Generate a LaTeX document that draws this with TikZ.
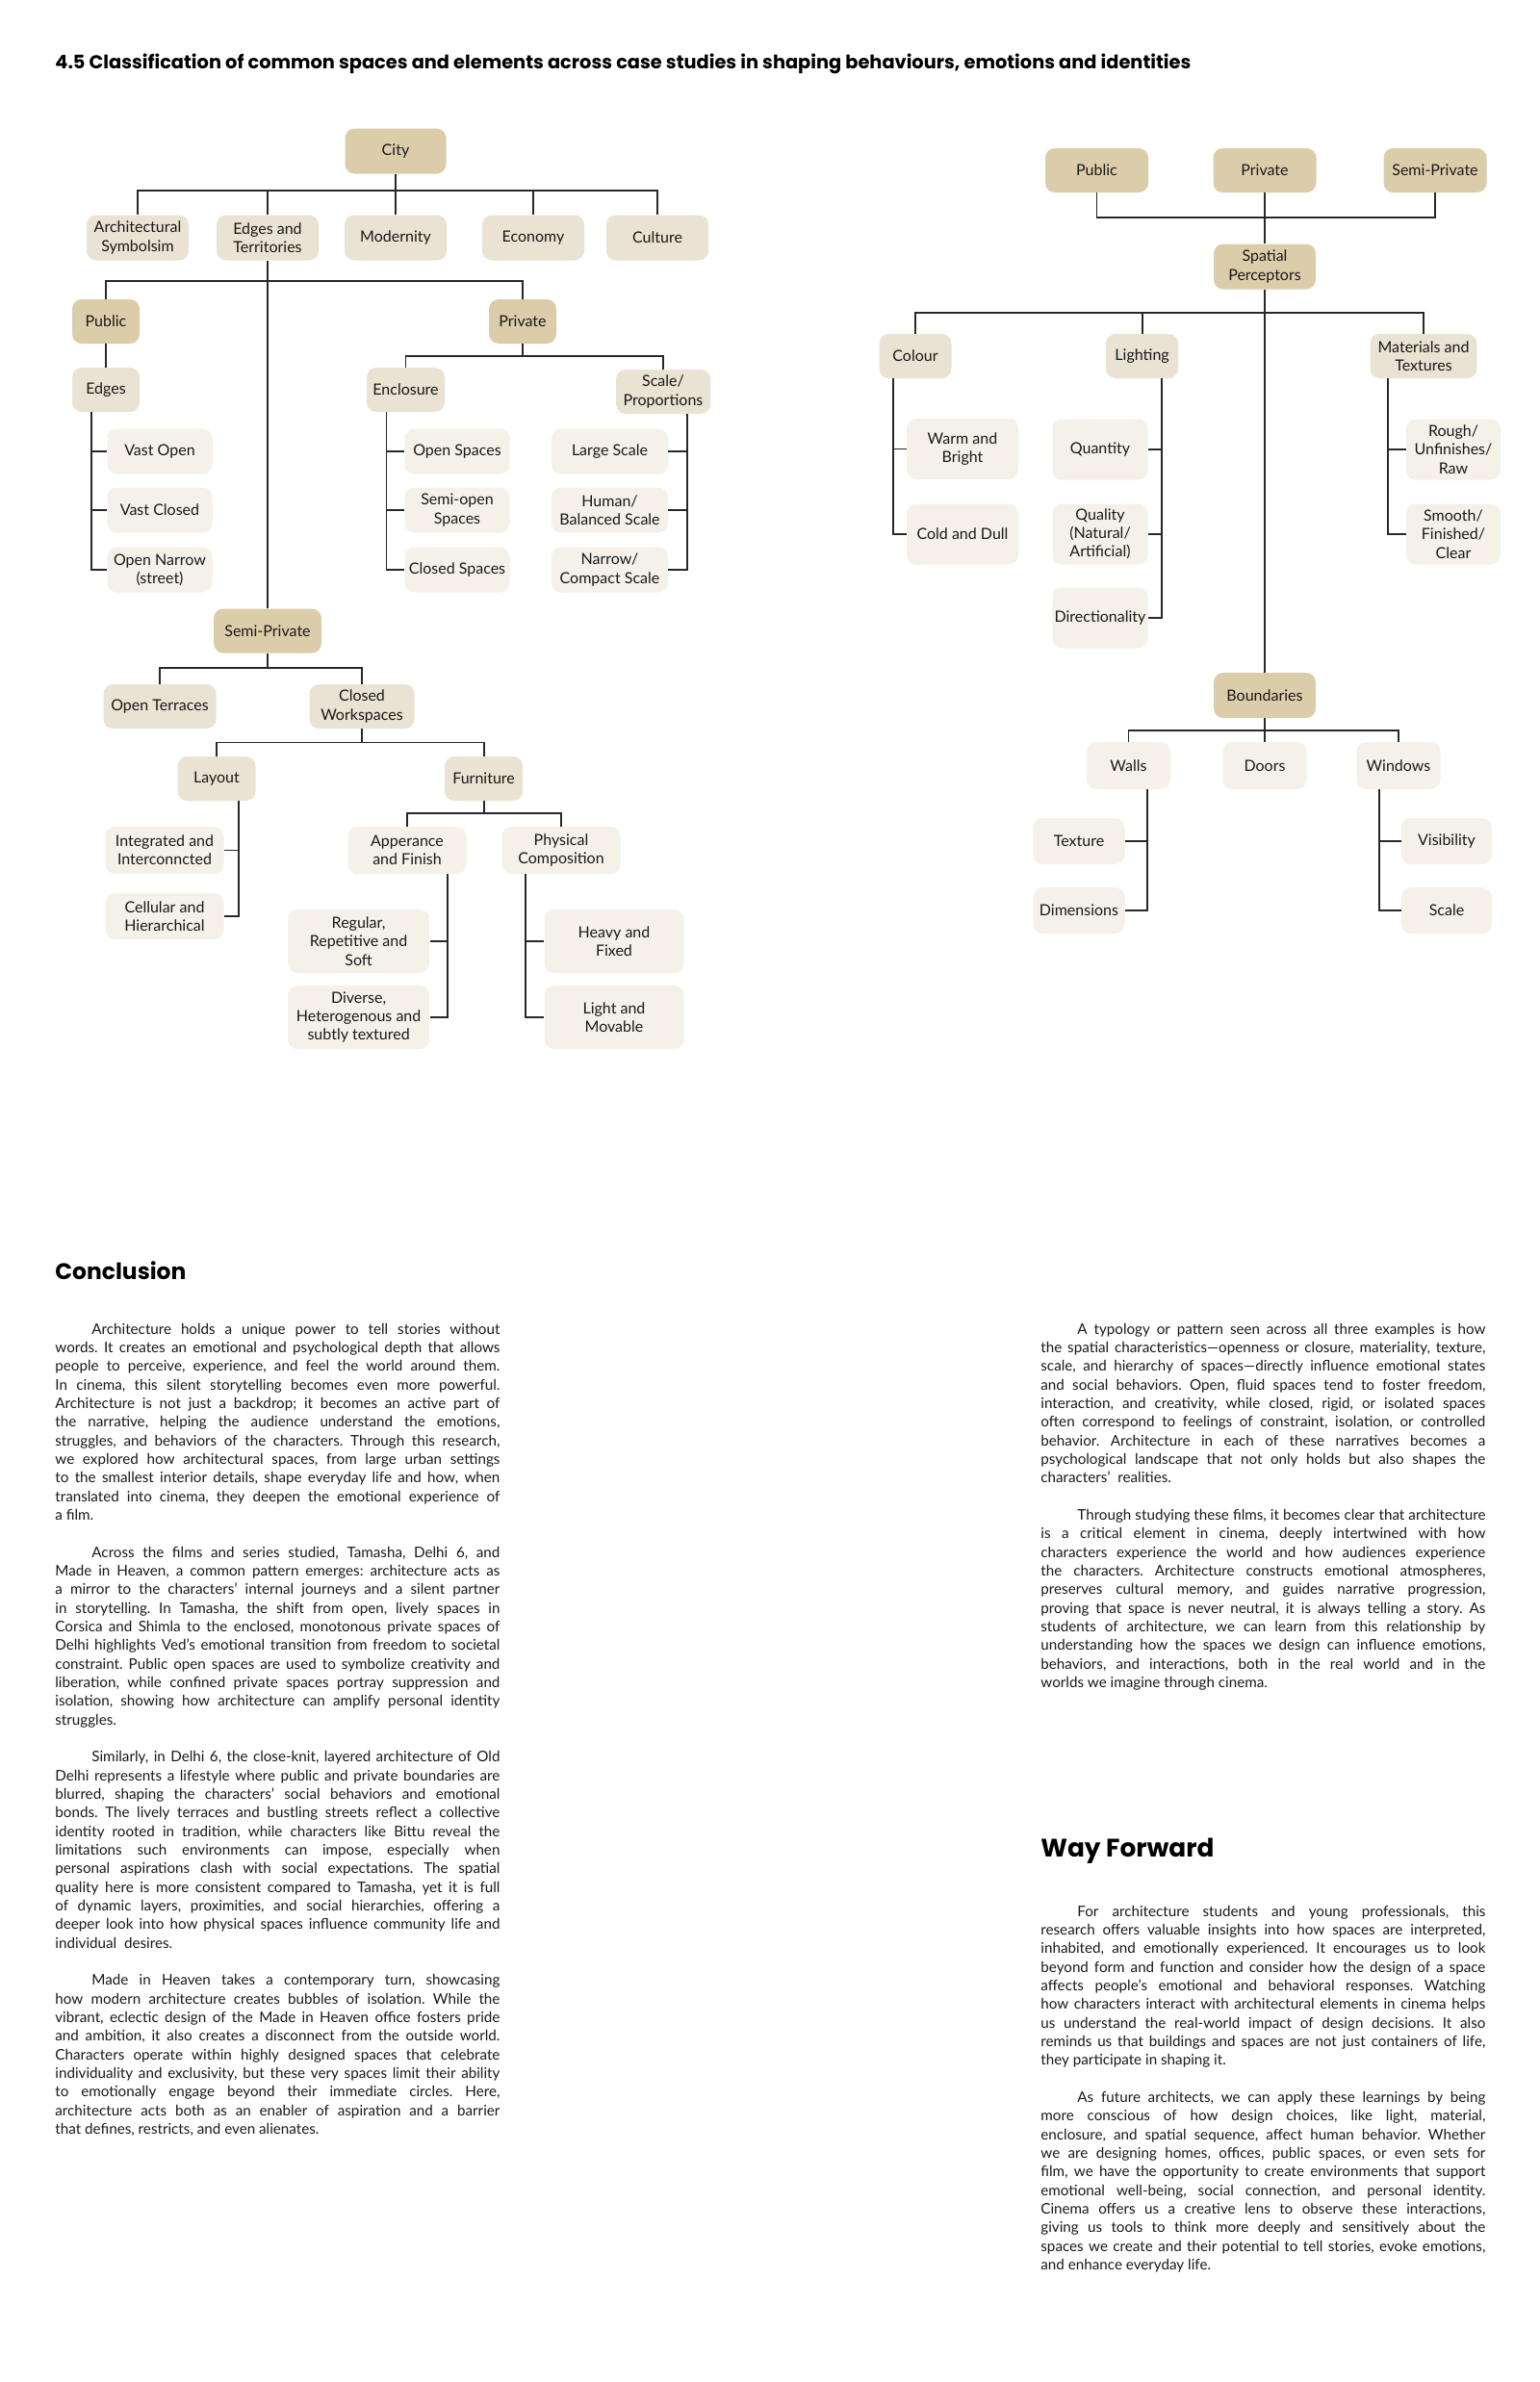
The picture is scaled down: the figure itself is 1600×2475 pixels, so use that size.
\documentclass[tikz,border=0pt]{standalone}
\usepackage{fontspec}
\usepackage{graphicx}
\usepackage{tikz}
\setmainfont{Lato}
\newfontfamily\headfont{Poppins}
\newcommand\nodefont{\fontsize{8}{9.6}\selectfont}
\newcommand\bodyfont{\fontsize{7.6}{9.667}\selectfont\frenchspacing
    \spaceskip=\fontdimen2\font plus 3\fontdimen2\font minus \fontdimen4\font}
% one justified line, first line with indent, last line, blank line
\newlength\colw
\setlength\colw{231pt}
\newcommand\jl[1]{\hbox to \colw{#1}}
\newcommand\il[1]{\hbox to \colw{\hskip19pt #1}}
\newcommand\el[1]{\hbox to \colw{#1\hfil}}
\newcommand\bl{\hbox{}}

\begin{document}
\begin{tikzpicture}[x=0.5pt,y=-0.5pt,
    box/.style={rounded corners=5pt,inner sep=1pt,align=center,text=ink,font=\nodefont},
    headbox/.style={box,fill=beigeD},
    midbox/.style={box,fill=beigeM},
    leafbox/.style={box,fill=beigeL},
    sz/.style 2 args={minimum width=#1*0.5pt,minimum height=#2*0.5pt},
    wire/.style={draw=wirec,line width=0.9pt},
    para/.style={anchor=north west,inner sep=0pt,font=\bodyfont,text=ink}]
    \definecolor{beigeD}{RGB}{220,205,170}
    \definecolor{beigeM}{RGB}{234,226,210}
    \definecolor{beigeL}{RGB}{245,241,233}
    \definecolor{ink}{RGB}{25,25,25}
    \definecolor{wirec}{RGB}{40,40,40}

    \fill[white] (0,0) rectangle (1600,2475);
    \useasboundingbox (0,0) rectangle (1600,2475);

    % Title
    \node[anchor=west,inner sep=0pt,text=black] (Title) at (57,66)
        {\resizebox{590pt}{!}{\headfont\bfseries 4.5 Classification of common spaces and elements across case studies in shaping behaviours, emotions and identities}};

    % ---------------- City tree ----------------
    \node[headbox,sz={105}{47}] (City) at (411,157) {City};
    \node[midbox,sz={106}{47}] (Arch) at (143,247) {Architectural\\Symbolsim};
    \node[midbox,sz={106}{47}] (EdgTer) at (278,247) {Edges and\\Territories};
    \node[midbox,sz={106}{47}] (Modern) at (411,247) {Modernity};
    \node[midbox,sz={106}{47}] (Econ) at (554,247) {Economy};
    \node[midbox,sz={106}{47}] (Cult) at (683,247) {Culture};

    \node[headbox,sz={70}{46}] (Pub) at (110,334) {Public};
    \node[headbox,sz={70}{46}] (Priv) at (543,334) {Private};
    \node[midbox,sz={70}{46}] (Edges) at (110,405) {Edges};
    \node[leafbox,sz={109}{47}] (VastOpen) at (166,469) {Vast Open};
    \node[leafbox,sz={109}{47}] (VastClosed) at (166,530) {Vast Closed};
    \node[leafbox,sz={109}{47}] (OpenNarrow) at (166,592) {Open Narrow\\(street)};

    \node[midbox,sz={81}{46}] (Encl) at (421.5,405) {Enclosure};
    \node[midbox,sz={98}{46}] (ScaleP) at (689,407) {Scale/\\Proportions};
    \node[leafbox,sz={109}{47}] (OpenSp) at (475,469) {Open Spaces};
    \node[leafbox,sz={109}{47}] (SemiOpen) at (475,530) {Semi-open\\Spaces};
    \node[leafbox,sz={109}{47}] (ClosedSp) at (475,592) {Closed Spaces};
    \node[leafbox,sz={121}{47}] (Large) at (633.5,469) {Large Scale};
    \node[leafbox,sz={121}{47}] (Human) at (633.5,530) {Human/\\Balanced Scale};
    \node[leafbox,sz={121}{47}] (NarrowC) at (633.5,592) {Narrow/\\Compact Scale};

    \node[headbox,sz={112}{46}] (SemiPriv) at (278,655.5) {Semi-Private};
    \node[midbox,sz={117}{46}] (Terr) at (166,734) {Open Terraces};
    \node[midbox,sz={109}{46}] (ClosedW) at (376,734) {Closed\\Workspaces};
    \node[midbox,sz={81}{46}] (Layout) at (225,809) {Layout};
    \node[midbox,sz={81}{46}] (Furn) at (502.6,809) {Furniture};
    \node[leafbox,sz={123}{49}] (Integ) at (171,883.5) {Integrated and\\Interconncted};
    \node[leafbox,sz={123}{48}] (Cell) at (171,952) {Cellular and\\Hierarchical};
    \node[leafbox,sz={123}{49}] (Appear) at (423,883.5) {Apperance\\and Finish};
    \node[leafbox,sz={123}{49}] (Phys) at (583,883.5) {Physical\\Composition};
    \node[leafbox,sz={147}{66}] (Regular) at (372.6,978) {Regular,\\Repetitive and\\Soft};
    \node[leafbox,sz={147}{66}] (Diverse) at (372.6,1057) {Diverse,\\Heterogenous and\\subtly textured};
    \node[leafbox,sz={145}{66}] (Heavy) at (638,978) {Heavy and\\Fixed};
    \node[leafbox,sz={145}{66}] (LightM) at (638,1057) {Light and\\Movable};

    % city fan
    \coordinate (CityBus) at (411,198);
    \draw[wire] (City) -- (Modern);
    \draw[wire] (Arch.north) |- (CityBus) -| (Cult.north);
    \foreach \n in {EdgTer,Econ} \draw[wire] (\n.north) -- (\n.north |- CityBus);

    % edges and territories
    \coordinate (PPBus) at (278,292);
    \draw[wire] (EdgTer) -- (SemiPriv);
    \draw[wire] (Pub.north) |- (PPBus) -| (Priv.north);
    \draw[wire] (Pub) -- (Edges);
    \coordinate (EdgesL) at ([xshift=-7.5pt]Edges.south);
    \draw[wire] (EdgesL) |- (OpenNarrow.west);
    \foreach \n in {VastOpen,VastClosed} \draw[wire] (\n.west) -- (\n.west -| EdgesL);

    % private
    \coordinate (PrivBus) at (543,370);
    \draw[wire] (Priv) -- (PrivBus);
    \draw[wire] (Encl.north) |- (PrivBus) -| (ScaleP.north);
    \coordinate (EnclL) at ([xshift=-10pt]Encl.south);
    \draw[wire] (EnclL) |- (ClosedSp.west);
    \foreach \n in {OpenSp,SemiOpen} \draw[wire] (\n.west) -- (\n.west -| EnclL);
    \coordinate (ScaleR) at ([xshift=12.3pt]ScaleP.south);
    \draw[wire] (ScaleR) |- (NarrowC.east);
    \foreach \n in {Large,Human} \draw[wire] (\n.east) -- (\n.east -| ScaleR);

    % semi-private
    \coordinate (SPBus) at (278,694);
    \draw[wire] (SemiPriv) -- (SPBus);
    \draw[wire] (Terr.north) |- (SPBus) -| (ClosedW.north);
    \coordinate (CWBus) at (376,771.5);
    \draw[wire] (ClosedW) -- (CWBus);
    \draw[wire] (Layout.north) |- (CWBus) -| (Furn.north);
    \coordinate (LayoutR) at ([xshift=11.3pt]Layout.south);
    \draw[wire] (LayoutR) |- (Cell.east);
    \draw[wire] (Integ.east) -- (Integ.east -| LayoutR);
    \coordinate (FurnBus) at (502.6,845);
    \draw[wire] (Furn) -- (FurnBus);
    \draw[wire] (Appear.north) |- (FurnBus) -| (Phys.north);
    \coordinate (AppearR) at ([xshift=21pt]Appear.south);
    \draw[wire] (AppearR) |- (Diverse.east);
    \draw[wire] (Regular.east) -- (Regular.east -| AppearR);
    \coordinate (PhysL) at ([xshift=-18.5pt]Phys.south);
    \draw[wire] (PhysL) |- (LightM.west);
    \draw[wire] (Heavy.west) -- (Heavy.west -| PhysL);

    % ---------------- Spatial perceptors tree ----------------
    \node[headbox,sz={107}{46}] (RPub) at (1139.5,177) {Public};
    \node[headbox,sz={107}{46}] (RPriv) at (1314,177) {Private};
    \node[headbox,sz={107}{46}] (RSemi) at (1491,177) {Semi-Private};
    \node[headbox,sz={106}{47}] (Spatial) at (1314,277) {Spatial\\Perceptors};

    \node[midbox,sz={75}{46}] (Colour) at (951,370) {Colour};
    \node[midbox,sz={75}{46}] (Lighting) at (1186.6,370) {Lighting};
    \node[midbox,sz={111}{46}] (Mater) at (1479,370) {Materials and\\Textures};
    \node[leafbox,sz={116}{63}] (Warm) at (1000,466.5) {Warm and\\Bright};
    \node[leafbox,sz={116}{63}] (Cold) at (1000,555) {Cold and Dull};
    \node[leafbox,sz={99}{63}] (Quantity) at (1143,467) {Quantity};
    \node[leafbox,sz={99}{63}] (Quality) at (1143,555) {Quality\\(Natural/\\Artificial)};
    \node[leafbox,sz={99}{63}] (Direct) at (1143,642) {Directionality};
    \node[leafbox,sz={98}{63}] (Rough) at (1510,467) {Rough/\\Unfinishes/\\Raw};
    \node[leafbox,sz={98}{63}] (Smooth) at (1510,555) {Smooth/\\Finished/\\Clear};

    \node[headbox,sz={106}{47}] (Bound) at (1314,722.5) {Boundaries};
    \node[leafbox,sz={87}{49}] (Walls) at (1172.5,795.5) {Walls};
    \node[leafbox,sz={87}{49}] (Doors) at (1314,795.5) {Doors};
    \node[leafbox,sz={87}{49}] (Windows) at (1453,795.5) {Windows};
    \node[leafbox,sz={95}{48}] (Texture) at (1121,874) {Texture};
    \node[leafbox,sz={95}{48}] (Dimens) at (1121,946) {Dimensions};
    \node[leafbox,sz={94}{48}] (Visib) at (1503,874) {Visibility};
    \node[leafbox,sz={94}{48}] (WScale) at (1503,946) {Scale};

    \coordinate (TopBus) at (1314,226);
    \draw[wire] (RPub.south) |- (TopBus) -| (RSemi.south);
    \draw[wire] (RPriv) -- (Spatial);
    \draw[wire] (Spatial) -- (Bound);
    \coordinate (SpatBus) at (1314,324.6);
    \draw[wire] (Colour.north) |- (SpatBus) -| (Mater.north);
    \draw[wire] (Lighting.north) -- (Lighting.north |- SpatBus);
    \coordinate (ColourL) at ([xshift=-11.5pt]Colour.south);
    \draw[wire] (ColourL) |- (Cold.west);
    \draw[wire] (Warm.west) -- (Warm.west -| ColourL);
    \coordinate (LightR) at ([xshift=10.2pt]Lighting.south);
    \draw[wire] (LightR) |- (Direct.east);
    \foreach \n in {Quantity,Quality} \draw[wire] (\n.east) -- (\n.east -| LightR);
    \coordinate (MaterL) at ([xshift=-18.7pt]Mater.south);
    \draw[wire] (MaterL) |- (Smooth.west);
    \draw[wire] (Rough.west) -- (Rough.west -| MaterL);

    \coordinate (BoundBus) at (1314,758.7);
    \draw[wire] (Bound) -- (Doors);
    \draw[wire] (Walls.north) |- (BoundBus) -| (Windows.north);
    \coordinate (WallsR) at ([xshift=9.6pt]Walls.south);
    \draw[wire] (WallsR) |- (Dimens.east);
    \draw[wire] (Texture.east) -- (Texture.east -| WallsR);
    \coordinate (WinL) at ([xshift=-10.15pt]Windows.south);
    \draw[wire] (WinL) |- (WScale.west);
    \draw[wire] (Visib.west) -- (Visib.west -| WinL);

    % ---------------- Text ----------------
    \node[anchor=west,inner sep=0pt,text=black] (Concl) at (57,1320)
        {\resizebox{68pt}{!}{\headfont\bfseries Conclusion}};
    \node[anchor=west,inner sep=0pt,text=black] (WayF) at (1081,1923)
        {\resizebox{90pt}{!}{\headfont\bfseries Way Forward}};

    \node[para] (ConclText) at (57,1374.5) {\vbox{%
        \il{Architecture holds a unique power to tell stories without}
        \jl{words. It creates an emotional and psychological depth that allows}
        \jl{people to perceive, experience, and feel the world around them.}
        \jl{In cinema, this silent storytelling becomes even more powerful.}
        \jl{Architecture is not just a backdrop; it becomes an active part of}
        \jl{the narrative, helping the audience understand the emotions,}
        \jl{struggles, and behaviors of the characters. Through this research,}
        \jl{we explored how architectural spaces, from large urban settings}
        \jl{to the smallest interior details, shape everyday life and how, when}
        \jl{translated into cinema, they deepen the emotional experience of}
        \el{a film.}
        \bl
        \il{Across the films and series studied, Tamasha, Delhi 6, and}
        \jl{Made in Heaven, a common pattern emerges: architecture acts as}
        \jl{a mirror to the characters’ internal journeys and a silent partner}
        \jl{in storytelling. In Tamasha, the shift from open, lively spaces in}
        \jl{Corsica and Shimla to the enclosed, monotonous private spaces of}
        \jl{Delhi highlights Ved’s emotional transition from freedom to societal}
        \jl{constraint. Public open spaces are used to symbolize creativity and}
        \jl{liberation, while confined private spaces portray suppression and}
        \jl{isolation, showing how architecture can amplify personal identity}
        \el{struggles.}
        \bl
        \il{Similarly, in Delhi 6, the close-knit, layered architecture of Old}
        \jl{Delhi represents a lifestyle where public and private boundaries are}
        \jl{blurred, shaping the characters’ social behaviors and emotional}
        \jl{bonds. The lively terraces and bustling streets reflect a collective}
        \jl{identity rooted in tradition, while characters like Bittu reveal the}
        \jl{limitations such environments can impose, especially when}
        \jl{personal aspirations clash with social expectations. The spatial}
        \jl{quality here is more consistent compared to Tamasha, yet it is full}
        \jl{of dynamic layers, proximities, and social hierarchies, offering a}
        \jl{deeper look into how physical spaces influence community life and}
        \el{individual\ \ desires.}
        \bl
        \il{Made in Heaven takes a contemporary turn, showcasing}
        \jl{how modern architecture creates bubbles of isolation. While the}
        \jl{vibrant, eclectic design of the Made in Heaven office fosters pride}
        \jl{and ambition, it also creates a disconnect from the outside world.}
        \jl{Characters operate within highly designed spaces that celebrate}
        \jl{individuality and exclusivity, but these very spaces limit their ability}
        \jl{to emotionally engage beyond their immediate circles. Here,}
        \jl{architecture acts both as an enabler of aspiration and a barrier}
        \el{that defines, restricts, and even alienates.}}};

    \node[para] (TypoText) at (1081,1374.5) {\vbox{%
        \il{A typology or pattern seen across all three examples is how}
        \jl{the spatial characteristics—openness or closure, materiality, texture,}
        \jl{scale, and hierarchy of spaces—directly influence emotional states}
        \jl{and social behaviors. Open, fluid spaces tend to foster freedom,}
        \jl{interaction, and creativity, while closed, rigid, or isolated spaces}
        \jl{often correspond to feelings of constraint, isolation, or controlled}
        \jl{behavior. Architecture in each of these narratives becomes a}
        \jl{psychological landscape that not only holds but also shapes the}
        \el{characters’\ \ realities.}
        \bl
        \il{Through studying these films, it becomes clear that architecture}
        \jl{is a critical element in cinema, deeply intertwined with how}
        \jl{characters experience the world and how audiences experience}
        \jl{the characters. Architecture constructs emotional atmospheres,}
        \jl{preserves cultural memory, and guides narrative progression,}
        \jl{proving that space is never neutral, it is always telling a story. As}
        \jl{students of architecture, we can learn from this relationship by}
        \jl{understanding how the spaces we design can influence emotions,}
        \jl{behaviors, and interactions, both in the real world and in the}
        \el{worlds we imagine through cinema.}}};

    \node[para] (WayText) at (1081,1979.5) {\vbox{%
        \il{For architecture students and young professionals, this}
        \jl{research offers valuable insights into how spaces are interpreted,}
        \jl{inhabited, and emotionally experienced. It encourages us to look}
        \jl{beyond form and function and consider how the design of a space}
        \jl{affects people’s emotional and behavioral responses. Watching}
        \jl{how characters interact with architectural elements in cinema helps}
        \jl{us understand the real-world impact of design decisions. It also}
        \jl{reminds us that buildings and spaces are not just containers of life,}
        \el{they participate in shaping it.}
        \bl
        \il{As future architects, we can apply these learnings by being}
        \jl{more conscious of how design choices, like light, material,}
        \jl{enclosure, and spatial sequence, affect human behavior. Whether}
        \jl{we are designing homes, offices, public spaces, or even sets for}
        \jl{film, we have the opportunity to create environments that support}
        \jl{emotional well-being, social connection, and personal identity.}
        \jl{Cinema offers us a creative lens to observe these interactions,}
        \jl{giving us tools to think more deeply and sensitively about the}
        \jl{spaces we create and their potential to tell stories, evoke emotions,}
        \el{and enhance everyday life.}}};
\end{tikzpicture}
\end{document}
